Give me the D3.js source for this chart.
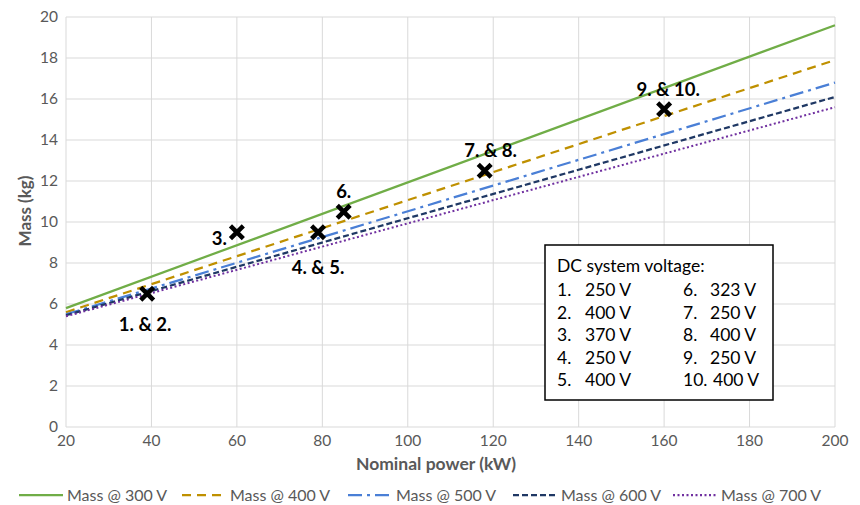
<!DOCTYPE html>
<html>
<head>
<meta charset="utf-8">
<script src="https://cdn.jsdelivr.net/npm/d3@7"></script>
<style>
  body { margin: 0; background: #fff; }
  svg { font-family: Lato, "Noto Sans", sans-serif; }
</style>
</head>
<body>
<div id="chart"></div>
<script>
/* Mass vs nominal power, one line per DC voltage, measured points as crosses */

const powerRange = [20, 200];
const seriesNames = ["Mass @ 300 V", "Mass @ 400 V", "Mass @ 500 V", "Mass @ 600 V", "Mass @ 700 V"];
const massAt20 = [5.8, 5.6, 5.5, 5.45, 5.4];
const massAt200 = [19.6, 17.9, 16.8, 16.1, 15.6];

const pointPower = [39, 60, 79, 85, 118, 160];
const pointMass = [6.5, 9.5, 9.5, 10.5, 12.5, 15.5];
const pointLabels = ["1. & 2.", "3.", "4. & 5.", "6.", "7. & 8.", "9. & 10."];

const xTicks = [20, 40, 60, 80, 100, 120, 140, 160, 180, 200];
const yTicks = [0, 2, 4, 6, 8, 10, 12, 14, 16, 18, 20];

const boxTitle = "DC system voltage:";
const boxLeft = [["1.", "250 V"], ["2.", "400 V"], ["3.", "370 V"], ["4.", "250 V"], ["5.", "400 V"]];
const boxRight = [["6.", "323 V"], ["7.", "250 V"], ["8.", "400 V"], ["9.", "250 V"], ["10.", "400 V"]];

const colors = ["#70AD47", "#BF9000", "#4A7FD6", "#1F3864", "#7030A0"];
const dashes = [null, "9,6", "14,5,3,5", "6,3", "2,2.5"];

const width = 860, height = 505;
const margin = { top: 17, right: 25, bottom: 78, left: 66 };

const svg = d3.select("#chart").append("svg")
  .attr("width", width).attr("height", height);

const x = d3.scaleLinear().domain(powerRange).range([margin.left, width - margin.right]);
const y = d3.scaleLinear().domain([0, 20]).range([height - margin.bottom, margin.top]);

// grid
svg.append("g").selectAll("line").data(yTicks).join("line")
  .attr("x1", x(20)).attr("x2", x(200))
  .attr("y1", d => y(d)).attr("y2", d => y(d))
  .attr("stroke", "#D9D9D9").attr("stroke-width", 1);
svg.append("g").selectAll("line").data(xTicks).join("line")
  .attr("x1", d => x(d)).attr("x2", d => x(d))
  .attr("y1", y(0)).attr("y2", y(20))
  .attr("stroke", "#D9D9D9").attr("stroke-width", 1);

// tick labels
svg.append("g").selectAll("text").data(yTicks).join("text")
  .attr("x", x(20) - 8).attr("y", d => y(d)).attr("dy", "0.35em")
  .attr("text-anchor", "end").attr("font-size", 15.5).attr("fill", "#595959")
  .text(d => d);
svg.append("g").selectAll("text").data(xTicks).join("text")
  .attr("x", d => x(d)).attr("y", y(0) + 19)
  .attr("text-anchor", "middle").attr("font-size", 15.5).attr("fill", "#595959")
  .text(d => d);

// axis titles
svg.append("text")
  .attr("transform", "translate(25,211) rotate(-90)")
  .attr("dy", "0.35em")
  .attr("text-anchor", "middle").attr("font-size", 17).attr("font-weight", "bold")
  .attr("fill", "#595959").text("Mass (kg)");
svg.append("text")
  .attr("x", 436).attr("y", 470)
  .attr("text-anchor", "middle").attr("font-size", 17.5).attr("font-weight", "bold")
  .attr("fill", "#595959").text("Nominal power (kW)");

// lines
const line = d3.line().x(d => x(d[0])).y(d => y(d[1]));
seriesNames.forEach((name, i) => {
  svg.append("path")
    .datum([[powerRange[0], massAt20[i]], [powerRange[1], massAt200[i]]])
    .attr("d", line)
    .attr("fill", "none")
    .attr("stroke", colors[i])
    .attr("stroke-width", i === 4 ? 2 : 2.25)
    .attr("stroke-dasharray", dashes[i]);
});

// measured points
const cross = d3.symbol().type(d3.symbolX).size(110);
const labelOffsets = [[-2, 31], [-10, 6], [0, 35], [0, -20], [6, -20], [4, -20]];
pointPower.forEach((p, i) => {
  svg.append("path")
    .attr("d", cross())
    .attr("transform", `translate(${x(p)},${y(pointMass[i])})`)
    .attr("fill", "none").attr("stroke", "#000").attr("stroke-width", 4.5);
  svg.append("text")
    .attr("x", x(p) + labelOffsets[i][0]).attr("y", y(pointMass[i]) + labelOffsets[i][1])
    .attr("dy", "0.35em")
    .attr("text-anchor", i === 1 ? "end" : "middle")
    .attr("font-size", 18.5).attr("font-weight", "bold").attr("fill", "#000")
    .text(pointLabels[i]);
});

// voltage box
const box = svg.append("g").attr("transform", "translate(545,245)");
box.append("rect").attr("width", 228).attr("height", 155)
  .attr("fill", "#fff").attr("stroke", "#000").attr("stroke-width", 1.5);
box.append("text").attr("x", 12).attr("y", 27).attr("font-size", 17.5).text(boxTitle);
const rowY = i => 51 + i * 22.5;
boxLeft.forEach((r, i) => {
  box.append("text").attr("x", 12).attr("y", rowY(i)).attr("font-size", 17.5).text(r[0]);
  box.append("text").attr("x", 40).attr("y", rowY(i)).attr("font-size", 17.5).text(r[1]);
});
boxRight.forEach((r, i) => {
  box.append("text").attr("x", 138).attr("y", rowY(i)).attr("font-size", 17.5).text(r[0]);
  box.append("text").attr("x", i === 4 ? 168 : 165).attr("y", rowY(i)).attr("font-size", 17.5).text(r[1]);
});

// legend
const legendX = [19, 182, 348, 513, 673];
const legend = svg.append("g").attr("transform", "translate(0,495)");
seriesNames.forEach((name, i) => {
  const g = legend.append("g").attr("transform", `translate(${legendX[i]},0)`);
  g.append("line").attr("x1", 0).attr("x2", 44).attr("y1", 0).attr("y2", 0)
    .attr("stroke", colors[i]).attr("stroke-width", 2.25)
    .attr("stroke-dasharray", dashes[i]);
  g.append("text").attr("x", 48).attr("y", 0).attr("dy", "0.35em")
    .attr("font-size", 16).attr("fill", "#595959").text(name);
});
</script>
</body>
</html>
